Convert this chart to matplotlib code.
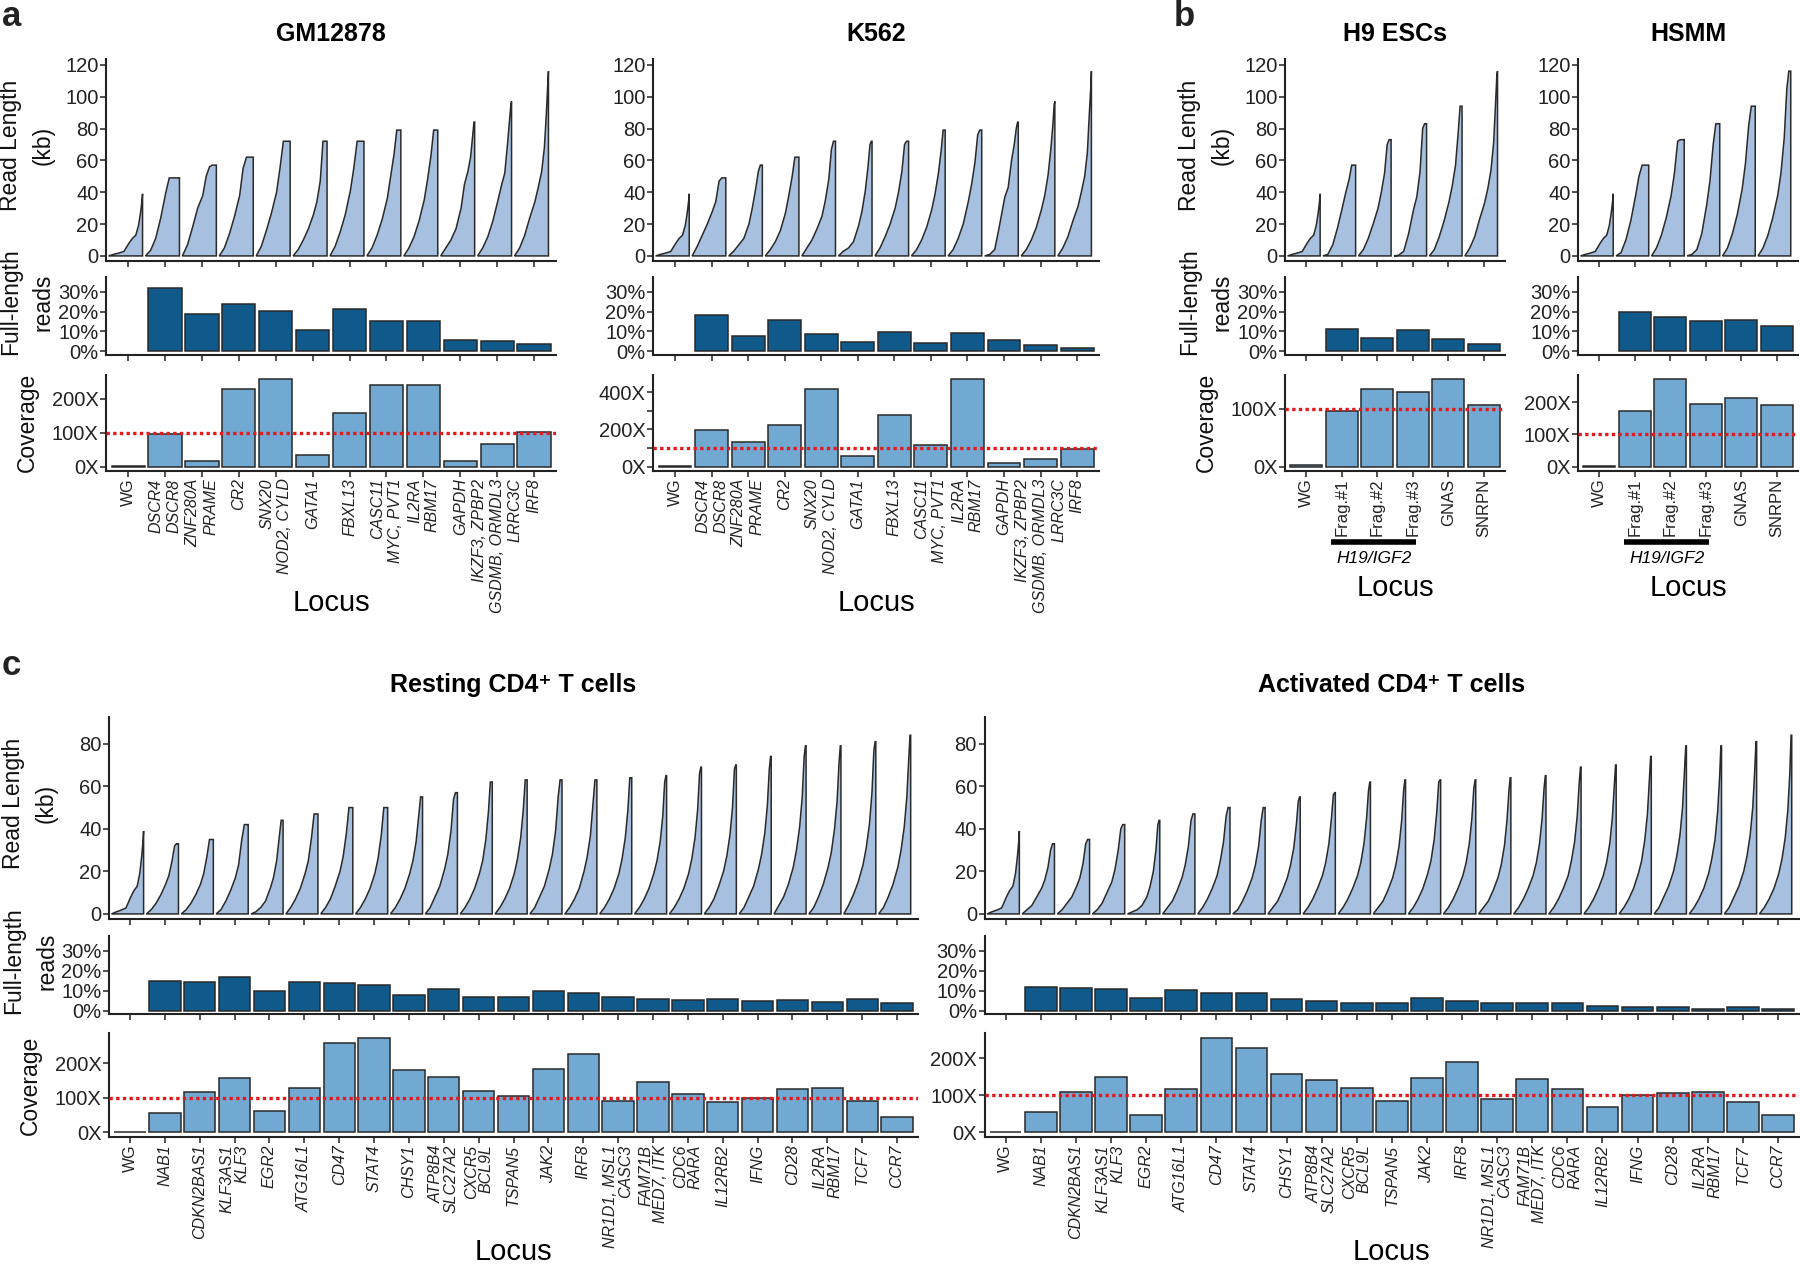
import matplotlib
matplotlib.use("Agg")
import matplotlib.pyplot as plt
from matplotlib.transforms import blended_transform_factory
import numpy as np

SANS = ["Liberation Sans", "DejaVu Sans"]
plt.rcParams["font.family"] = SANS

CURVE_FILL = "#a8c0e0"
FULL_FILL = "#10598b"
COV_FILL = "#72a9d3"
EDGE = "#2a2a2a"
RED = "#e3191c"

# fraction of (sorted) reads at which each read-length curve was sampled
READ_Q = [0, 0.15, 0.3, 0.45, 0.6, 0.7, 0.8, 0.88, 0.94, 0.98, 1.0]

# ---------------- panel a ----------------
AK_LOCI = ["WG", "DSCR4\nDSCR8", "ZNF280A\nPRAME", "CR2", "SNX20\nNOD2, CYLD",
           "GATA1", "FBXL13", "CASC11\nMYC, PVT1", "IL2RA\nRBM17", "GAPDH",
           "IKZF3, ZPBP2\nGSDMB, ORMDL3\nLRRC3C", "IRF8"]

GM_READ_KB = [
    [0, 1, 1.8, 2.8, 8, 11, 13, 19, 27, 34, 39],
    [0, 3.5, 11, 24, 40, 49, 49, 49, 49, 49, 49],
    [0, 7, 18, 30, 38, 50, 56, 57, 57, 57, 57],
    [0, 5, 14, 25, 38, 55, 62, 62, 62, 62, 62],
    [0, 6, 16, 27, 40, 55, 72, 72, 72, 72, 72],
    [0, 4, 10, 17, 26, 34, 47, 72, 72, 72, 72],
    [0, 6, 15, 26, 41, 55, 72, 72, 72, 72, 72],
    [0, 5, 13, 23, 36, 50, 64, 79, 79, 79, 79],
    [0, 5, 12, 22, 35, 48, 63, 79, 79, 79, 79],
    [0, 5, 10, 17, 30, 45, 53, 62, 75, 84, 84],
    [0, 5, 12, 22, 35, 44, 52, 70, 85, 95, 97],
    [0, 5, 13, 24, 34, 43, 53, 68, 90, 108, 116],
]
GM_FULL_PCT = [0, 32, 18.8, 24, 20.2, 10.8, 21.3, 15.2, 15.4, 5.9, 5.2, 3.5]
GM_COV_X = [2, 95, 15, 228, 258, 34, 159, 241, 240, 15, 66, 102]

K562_READ_KB = [
    [0, 1, 1.8, 2.8, 8, 11, 13, 19, 27, 34, 39],
    [0, 6, 13, 20, 28, 34, 47, 49, 49, 49, 49],
    [0, 3, 7, 11, 20, 30, 42, 53, 57, 57, 57],
    [0, 4, 9, 16, 27, 38, 50, 62, 62, 62, 62],
    [0, 5, 10, 17, 25, 35, 48, 67, 72, 72, 72],
    [0, 3, 5, 9, 19, 28, 41, 56, 70, 72, 72],
    [0, 5, 12, 20, 30, 40, 53, 70, 72, 72, 72],
    [0, 4, 10, 18, 29, 39, 52, 66, 79, 79, 79],
    [0, 4, 11, 20, 34, 45, 59, 76, 79, 79, 79],
    [0, 1, 4, 20, 37, 43, 60, 70, 80, 84, 84],
    [0, 4, 10, 18, 29, 38, 51, 67, 82, 95, 97],
    [0, 5, 12, 22, 31, 40, 50, 65, 90, 105, 116],
]
K562_FULL_PCT = [0, 18.3, 7.5, 16, 8.7, 4.9, 9.8, 4.2, 9, 5.8, 3.1, 1.7]
K562_COV_X = [2, 195, 130, 223, 419, 56, 279, 115, 470, 20, 41, 93]

# ---------------- panel b ----------------
B_LOCI = ["WG", "Frag.#1", "Frag.#2", "Frag.#3", "GNAS", "SNRPN"]

H9_READ_KB = [
    [0, 1, 1.8, 2.8, 8, 11, 13, 19, 27, 34, 39],
    [0, 1, 7, 18, 31, 40, 48, 57, 57, 57, 57],
    [0, 4, 11, 20, 30, 40, 52, 70, 73, 73, 73],
    [0, 0.5, 3, 14, 29, 37, 53, 80, 83, 83, 83],
    [0, 4, 12, 22, 34, 44, 57, 77, 94, 94, 94],
    [0, 5, 12, 23, 33, 42, 54, 71, 96, 114, 116],
]
H9_FULL_PCT = [0, 11.3, 6.6, 10.8, 6.1, 3.8]
H9_COV_X = [2, 96, 133, 128, 151, 106]

HSMM_READ_KB = [
    [0, 1, 1.8, 2.8, 8, 11, 13, 19, 27, 34, 39],
    [0, 2, 10, 22, 38, 50, 57, 57, 57, 57, 57],
    [0, 5, 13, 24, 38, 52, 72, 73, 73, 73, 73],
    [0, 1, 4, 14, 32, 47, 70, 83, 83, 83, 83],
    [0, 5, 14, 26, 42, 58, 82, 94, 94, 94, 94],
    [0, 5, 13, 24, 38, 52, 74, 105, 116, 116, 116],
]
HSMM_FULL_PCT = [0, 20, 17.5, 15.5, 16, 13]
HSMM_COV_X = [2, 172, 272, 196, 214, 190]

# ---------------- panel c ----------------
C_LOCI = ["WG", "NAB1", "CDKN2BAS1", "KLF3AS1\nKLF3", "EGR2", "ATG16L1", "CD47",
          "STAT4", "CHSY1", "ATP8B4\nSLC27A2", "CXCR5\nBCL9L", "TSPAN5", "JAK2",
          "IRF8", "NR1D1, MSL1\nCASC3", "FAM71B\nMED7, ITK", "CDC6\nRARA",
          "IL12RB2", "IFNG", "CD28", "IL2RA\nRBM17", "TCF7", "CCR7"]

REST_READ_KB = [
    [0, 1, 1.8, 2.8, 8, 11, 13, 19, 27, 34, 39],
    [0, 2, 5, 9, 14, 18, 25, 32, 33, 33, 33],
    [0, 2, 5, 9, 14, 19, 27, 35, 35, 35, 35],
    [0, 2, 6, 11, 17, 23, 35, 42, 42, 42, 42],
    [0, 1, 3, 6, 12, 17, 25, 36, 44, 44, 44],
    [0, 3, 7, 12, 19, 25, 36, 47, 47, 47, 47],
    [0, 3, 7, 13, 20, 27, 38, 50, 50, 50, 50],
    [0, 3, 7, 12, 19, 26, 37, 50, 50, 50, 50],
    [0, 3, 7, 12, 19, 25, 34, 46, 55, 55, 55],
    [0, 3, 8, 13, 21, 28, 39, 54, 57, 57, 57],
    [0, 3, 7, 12, 19, 25, 35, 48, 62, 62, 62],
    [0, 3, 7, 12, 19, 26, 36, 49, 63, 63, 63],
    [0, 3, 8, 13, 21, 28, 39, 55, 63, 63, 63],
    [0, 3, 7, 12, 20, 27, 37, 52, 63, 63, 63],
    [0, 3, 7, 12, 19, 26, 36, 49, 64, 64, 64],
    [0, 3, 7, 12, 19, 25, 34, 46, 62, 65, 65],
    [0, 3, 7, 12, 19, 26, 36, 49, 66, 69, 69],
    [0, 3, 7, 13, 20, 27, 37, 50, 68, 70, 70],
    [0, 3, 8, 13, 21, 28, 38, 51, 68, 74, 74],
    [0, 4, 8, 14, 22, 30, 41, 55, 74, 79, 79],
    [0, 3, 8, 14, 22, 29, 40, 53, 71, 79, 79],
    [0, 4, 9, 15, 23, 31, 42, 57, 77, 81, 81],
    [0, 3, 8, 14, 22, 30, 41, 55, 73, 84, 84],
]
REST_FULL_PCT = [0, 15, 14.5, 16.7, 9.8, 14.3, 13.7, 13, 7.7, 11, 6.8, 7, 9.8,
                 8.7, 7, 5.7, 5.3, 6, 4.7, 5.2, 4.3, 5.7, 3.7]
REST_COV_X = [2, 55, 118, 157, 62, 127, 258, 274, 181, 160, 121, 105, 184, 228,
              90, 145, 112, 88, 100, 125, 128, 92, 45]

ACT_READ_KB = [
    [0, 1, 1.8, 2.8, 8, 11, 13, 19, 27, 34, 39],
    [0, 2, 4, 8, 12, 16, 22, 30, 33, 33, 33],
    [0, 2, 5, 8, 13, 17, 24, 33, 35, 35, 35],
    [0, 2, 5, 10, 15, 21, 30, 40, 42, 42, 42],
    [0, 1, 2, 4, 8, 13, 20, 30, 42, 44, 44],
    [0, 3, 6, 11, 17, 23, 32, 44, 47, 47, 47],
    [0, 3, 7, 12, 18, 25, 34, 46, 50, 50, 50],
    [0, 2, 6, 11, 17, 23, 32, 44, 50, 50, 50],
    [0, 3, 6, 11, 17, 23, 31, 42, 53, 55, 55],
    [0, 3, 7, 12, 18, 24, 33, 45, 56, 57, 57],
    [0, 3, 7, 12, 18, 24, 33, 45, 58, 62, 62],
    [0, 3, 6, 11, 17, 23, 32, 44, 58, 63, 63],
    [0, 3, 7, 12, 19, 25, 35, 48, 62, 63, 63],
    [0, 3, 7, 12, 18, 24, 33, 45, 59, 63, 63],
    [0, 3, 6, 11, 17, 23, 32, 44, 58, 64, 64],
    [0, 3, 7, 12, 18, 24, 33, 45, 59, 65, 65],
    [0, 3, 7, 12, 18, 25, 34, 46, 61, 69, 69],
    [0, 3, 7, 12, 18, 24, 33, 45, 60, 70, 70],
    [0, 3, 7, 12, 19, 25, 35, 47, 63, 74, 74],
    [0, 3, 8, 13, 20, 27, 37, 50, 67, 79, 79],
    [0, 3, 7, 12, 19, 26, 35, 48, 64, 79, 79],
    [0, 3, 8, 13, 20, 27, 37, 50, 67, 81, 81],
    [0, 3, 7, 12, 19, 26, 36, 49, 66, 84, 84],
]
ACT_FULL_PCT = [0, 12, 11.5, 10.7, 6.5, 10.2, 9, 8.7, 5.8, 4.8, 4, 3.7, 6.2,
                4.8, 3.7, 3.8, 3.8, 2.3, 2, 2, 1, 1.8, 1]
ACT_COV_X = [2, 56, 110, 150, 47, 117, 255, 228, 156, 140, 120, 84, 146, 190,
             90, 145, 117, 69, 100, 105, 108, 82, 46]

# ---------------- layout (figure fractions) ----------------
ROW1 = [(0.7944, 0.9533), (0.7203, 0.7814), (0.6286, 0.7045)]
ROW2 = [(0.2752, 0.4346), (0.2003, 0.2618), (0.1033, 0.1853)]
FIG_W, FIG_H = 1800, 1268

fig = plt.figure(figsize=(18, 12.68), dpi=100)


def style(ax, n, tick_size):
    for side in ("top", "right"):
        ax.spines[side].set_visible(False)
    for side in ("left", "bottom"):
        ax.spines[side].set_linewidth(1.5)
        ax.spines[side].set_color("#222222")
    ax.set_xlim(-0.6, n - 0.4)
    ax.set_xticks(np.arange(n))
    ax.tick_params(direction="out", length=4, width=1.2, color="#333333",
                   pad=1.5, labelcolor="#222222", labelsize=tick_size)
    ax.tick_params(axis="x", labelbottom=False)


def ylabel(x0, row, text, shift_px):
    y = (row[0] + row[1]) / 2 + shift_px / FIG_H
    fig.text(x0 - 79 / FIG_W, y, text, rotation=90, ha="center", va="center",
             fontsize=16.5, linespacing=1.55, color="#111111")


def draw_cell(x0, x1, rows, loci, read_kb, full_pct, cov_x, title, title_y,
              rl_ylim, rl_ticks, cov_ticks, cov_labels, show_ylabel,
              tick_size, xlab_size, xlab_spacing, italic_loci, locus_y):
    n = len(loci)
    xs = np.arange(n)
    w = x1 - x0
    q = np.asarray(READ_Q)

    # read-length distributions
    ax = fig.add_axes([x0, rows[0][0], w, rows[0][1] - rows[0][0]])
    for i, kb in enumerate(read_kb):
        px = i - 0.53 + 0.92 * q
        ax.fill(np.concatenate([px, [px[-1], px[0]]]),
                np.concatenate([kb, [0, 0]]),
                facecolor=CURVE_FILL, edgecolor=EDGE, lw=1.1)
    ax.set_ylim(*rl_ylim)
    ax.set_yticks(rl_ticks)
    style(ax, n, tick_size)

    # full-length read fraction
    ax = fig.add_axes([x0, rows[1][0], w, rows[1][1] - rows[1][0]])
    fl = np.asarray(full_pct, dtype=float)
    keep = fl > 0
    ax.bar(xs[keep], fl[keep], width=0.9, color=FULL_FILL, edgecolor=EDGE,
           lw=1.1)
    ax.set_ylim(-1.7, 37.4)
    ax.set_yticks([0, 10, 20, 30])
    ax.set_yticklabels(["0%", "10%", "20%", "30%"])
    style(ax, n, tick_size)

    # coverage
    ax = fig.add_axes([x0, rows[2][0], w, rows[2][1] - rows[2][0]])
    cov = np.asarray(cov_x, dtype=float)
    ax.bar(xs, cov, width=0.9, color=COV_FILL, edgecolor=EDGE, lw=1.1)
    ax.axhline(100, color=RED, ls=(0, (1, 1)), lw=2.4, zorder=5)
    ax.set_ylim(-0.05 * cov.max(), 1.05 * cov.max())
    ax.set_yticks(cov_ticks)
    ax.set_yticklabels(cov_labels)
    style(ax, n, tick_size)
    ax.tick_params(axis="x", labelbottom=True)
    ax.set_xticklabels(loci, rotation=90, ha="right", va="center",
                       rotation_mode="anchor", linespacing=xlab_spacing,
                       fontsize=xlab_size)
    for lab, name in zip(ax.get_xticklabels(), loci):
        if italic_loci and name != "WG":
            lab.set_fontstyle("italic")

    if show_ylabel:
        ylabel(x0, rows[0], "Read Length\n(kb)", 15)
        ylabel(x0, rows[1], "Full-length\nreads", 14)
        ylabel(x0, rows[2], "Coverage", 0)

    cx = (x0 + x1) / 2
    fig.text(cx, title_y, title, ha="center", va="center", fontsize=18,
             fontweight="bold")
    fig.text(cx, locus_y, "Locus", ha="center", va="center", fontsize=21)
    return ax


RL1_TICKS = [0, 20, 40, 60, 80, 100, 120]
RL2_TICKS = [0, 20, 40, 60, 80]

draw_cell(0.0589, 0.309, ROW1, AK_LOCI, GM_READ_KB, GM_FULL_PCT, GM_COV_X,
          "GM12878", 0.973, (-3, 123.5), RL1_TICKS, [0, 100, 200],
          ["0X", "100X", "200X"], True, 14.5, 11.5, 1.25, True, 0.5245)
draw_cell(0.3628, 0.6106, ROW1, AK_LOCI, K562_READ_KB, K562_FULL_PCT,
          K562_COV_X, "K562", 0.973, (-3, 123.5), RL1_TICKS,
          [0, 100, 200, 300, 400], ["0X", "", "200X", "", "400X"], False,
          14.5, 11.5, 1.25, True, 0.5245)
ax_h9 = draw_cell(0.7139, 0.8361, ROW1, B_LOCI, H9_READ_KB, H9_FULL_PCT,
                  H9_COV_X, "H9 ESCs", 0.973, (-3, 123.5), RL1_TICKS,
                  [0, 100], ["0X", "100X"], True, 14.5, 12, 1.1, False,
                  0.5363)
ax_hsmm = draw_cell(0.8767, 0.999, ROW1, B_LOCI, HSMM_READ_KB, HSMM_FULL_PCT,
                    HSMM_COV_X, "HSMM", 0.973, (-3, 123.5), RL1_TICKS,
                    [0, 100, 200], ["0X", "100X", "200X"], False, 14.5, 12,
                    1.1, False, 0.5363)

# H19/IGF2 bracket under the three fragments
for ax in (ax_h9, ax_hsmm):
    tr = blended_transform_factory(ax.transData, fig.transFigure)
    ax.plot([0.7, 3.1], [0.5722, 0.5722], color="black", lw=4,
            solid_capstyle="butt", transform=tr, clip_on=False)
    ax.text(1.9, 0.5595, "H19/IGF2", transform=tr, ha="center", va="center",
            fontsize=12.5, fontstyle="italic")

draw_cell(0.0606, 0.510, ROW2, C_LOCI, REST_READ_KB, REST_FULL_PCT, REST_COV_X,
          "Resting CD4\u207a T cells", 0.4598, (-2.4, 92.6), RL2_TICKS,
          [0, 100, 200], ["0X", "100X", "200X"], True, 14.5, 11.5, 1.0, True,
          0.0126)
draw_cell(0.547, 0.9995, ROW2, C_LOCI, ACT_READ_KB, ACT_FULL_PCT, ACT_COV_X,
          "Activated CD4\u207a T cells", 0.4598, (-2.4, 92.6), RL2_TICKS,
          [0, 100, 200], ["0X", "100X", "200X"], False, 14.5, 11.5, 1.0, True,
          0.0126)

for letter, x, y in (("a", 0.001, 0.987), ("b", 0.652, 0.987),
                     ("c", 0.001, 0.475)):
    fig.text(x, y, letter, ha="left", va="center", fontsize=25,
             fontweight="bold", color="#222222")

fig.savefig("out.png", dpi=100)
